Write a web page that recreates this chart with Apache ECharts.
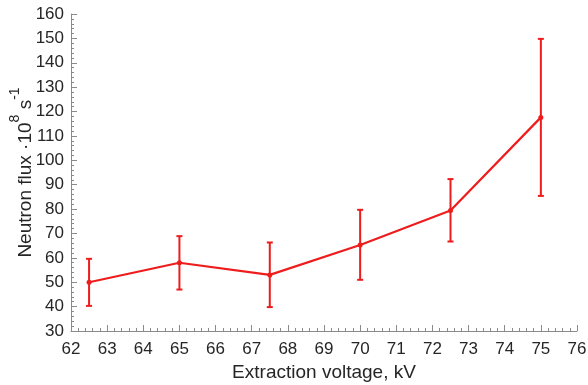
<!DOCTYPE html>
<html>
<head>
<meta charset="utf-8">
<script src="https://cdn.jsdelivr.net/npm/echarts@6/dist/echarts.min.js"></script>
<style>
    html, body { margin: 0; padding: 0; background: #fff; }
    #chart { width: 588px; height: 385px; }
</style>
</head>
<body>
<div id="chart"></div>
<script>
// extraction voltage (kV)
const voltage = [62.5, 65, 67.5, 70, 72.5, 75];
// neutron flux (1e8 s^-1)
const flux = [50, 58, 53, 65.3, 79.4, 117.6];
const fluxLow = [40.3, 47, 39.8, 51, 66.7, 85.4];
const fluxHigh = [59.6, 68.9, 66.3, 79.7, 92.3, 149.8];

const red = '#ee1c1c';
const axisColor = '#8a8a8a';
const textColor = '#262626';

const myChart = echarts.init(document.getElementById('chart'));

const lineData = voltage.map((v, i) => [v, flux[i]]);
const errData = voltage.map((v, i) => [v, fluxLow[i], fluxHigh[i]]);

const option = {
    animation: false,
    grid: {
        left: 71,
        right: 11,
        top: 14,
        bottom: 54,
        outerBoundsMode: 'none'
    },
    xAxis: {
        type: 'value',
        min: 62,
        max: 76,
        interval: 1,
        name: 'Extraction voltage, kV',
        nameLocation: 'middle',
        nameGap: 32,
        nameTextStyle: { color: textColor, fontSize: 19, fontFamily: 'Liberation Sans' },
        axisLine: { lineStyle: { color: axisColor, width: 1 } },
        axisTick: { inside: true, length: 6, lineStyle: { color: axisColor } },
        minorTick: { show: true, splitNumber: 5, length: 3, lineStyle: { color: axisColor } },
        axisLabel: { color: textColor, fontSize: 17, margin: 10, fontFamily: 'Liberation Sans' },
        splitLine: { show: false }
    },
    yAxis: {
        type: 'value',
        min: 30,
        max: 160,
        interval: 10,
        name: '{t|Neutron flux ·10}{s|8}{t| s}{s|-1}',
        nameLocation: 'middle',
        nameGap: 36,
        nameMoveOverlap: false,
        nameRotate: 90,
        nameTextStyle: {
            color: textColor,
            fontFamily: 'Liberation Sans',
            rich: {
                t: { fontSize: 19, color: textColor, fontFamily: 'Liberation Sans', verticalAlign: 'bottom', lineHeight: 27 },
                s: { fontSize: 14, color: textColor, fontFamily: 'Liberation Sans', verticalAlign: 'top', lineHeight: 27 }
            }
        },
        axisLine: { show: true, lineStyle: { color: axisColor, width: 1 } },
        axisTick: { show: true, inside: true, length: 6, lineStyle: { color: axisColor } },
        minorTick: { show: true, splitNumber: 5, length: 3, lineStyle: { color: axisColor } },
        axisLabel: { color: textColor, fontSize: 17, margin: 7, fontFamily: 'Liberation Sans' },
        splitLine: { show: false }
    },
    series: [
        {
            type: 'custom',
            name: 'error',
            data: errData,
            z: 3,
            renderItem: (params, api) => {
                const x = api.value(0);
                const lo = api.coord([x, api.value(1)]);
                const hi = api.coord([x, api.value(2)]);
                const cap = 3;
                const style = { stroke: red, lineWidth: 2 };
                return {
                    type: 'group',
                    children: [
                        { type: 'line', shape: { x1: lo[0], y1: lo[1], x2: hi[0], y2: hi[1] }, style: style },
                        { type: 'line', shape: { x1: lo[0] - cap, y1: lo[1], x2: lo[0] + cap, y2: lo[1] }, style: style },
                        { type: 'line', shape: { x1: hi[0] - cap, y1: hi[1], x2: hi[0] + cap, y2: hi[1] }, style: style }
                    ]
                };
            }
        },
        {
            type: 'line',
            name: 'flux',
            data: lineData,
            z: 4,
            symbol: 'circle',
            symbolSize: 5,
            lineStyle: { color: red, width: 2.2 },
            itemStyle: { color: red }
        }
    ]
};

myChart.setOption(option);
</script>
</body>
</html>
